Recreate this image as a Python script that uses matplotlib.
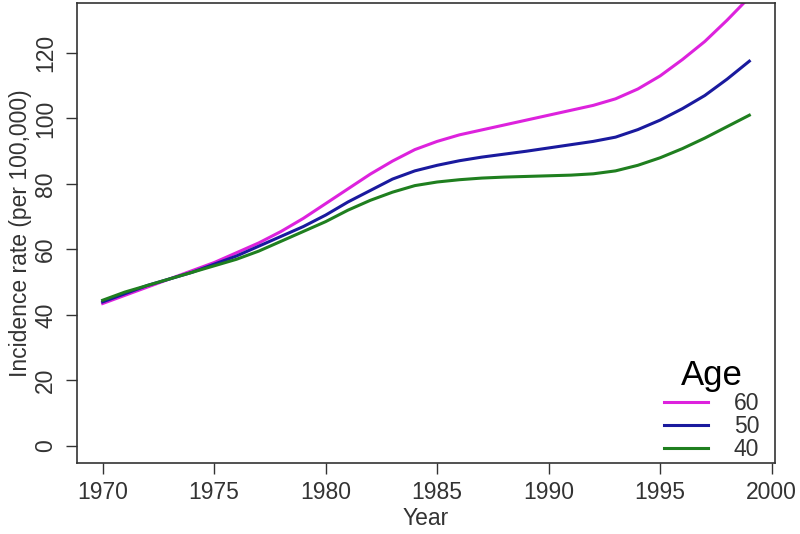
import matplotlib
matplotlib.use("Agg")
import matplotlib.pyplot as plt

years = list(range(1970, 2000))
age60 = [43.5, 46, 48.5, 51, 53.5, 56, 59, 62, 65.5, 69.5,
         74, 78.5, 83, 87, 90.5, 93, 95, 96.5, 98, 99.5,
         101, 102.5, 104, 106, 109, 113, 118, 123.5, 130, 137]
age50 = [44, 46.5, 49, 51, 53, 55.5, 58, 61, 64, 67,
         70.5, 74.5, 78, 81.5, 84, 85.7, 87.1, 88.2, 89.1, 90,
         91, 92, 93, 94.3, 96.6, 99.5, 103, 107, 112, 117.5]
age40 = [44.5, 47, 49, 51, 53, 55, 57, 59.5, 62.5, 65.5,
         68.5, 72, 75, 77.5, 79.5, 80.6, 81.3, 81.8, 82.1, 82.3,
         82.5, 82.7, 83.1, 84, 85.7, 88, 90.8, 94, 97.5, 101]
series = [("60", age60, "#dd22dd"), ("50", age50, "#1a1a9e"), ("40", age40, "#1f7f1f")]
xticks = [1970, 1975, 1980, 1985, 1990, 1995, 2000]
yticks = [0, 20, 40, 60, 80, 100, 120]

plt.rcParams["font.family"] = ["Liberation Sans", "DejaVu Sans"]
fig = plt.figure(figsize=(8, 5.34), dpi=100)
ax = fig.add_axes([0.096, 0.133, 0.873, 0.861])

for lab, vals, col in series:
    ax.plot(years, vals, color=col, lw=2.2, label=lab)

ax.set_xlim(1968.84, 2000.16)
ax.set_ylim(-5.2, 135.2)
ax.set_xticks(xticks)
ax.set_yticks(yticks)
ax.tick_params(axis="both", direction="out", length=8, width=1, color="#333333",
               labelsize=16.5, labelcolor="#333333")
ax.tick_params(axis="x", pad=5)
ax.tick_params(axis="y", pad=6)
for t in ax.get_yticklabels():
    t.set_rotation(90)
    t.set_va("center")
for s in ax.spines.values():
    s.set_color("#333333")
    s.set_linewidth(1.2)

ax.set_xlabel("Year", fontsize=16.5, color="#333333", labelpad=2)
ax.set_ylabel("Incidence rate (per 100,000)", fontsize=16.5, color="#333333", labelpad=2)

leg = ax.legend(loc="lower right", bbox_to_anchor=(1.0, -0.03), frameon=False,
                title="Age", title_fontsize=25, fontsize=16.5,
                handlelength=1.95, handletextpad=1.1, labelspacing=0.0, borderaxespad=0.3)
for t in leg.get_texts():
    t.set_color("#333333")

fig.savefig("out.png", dpi=100, facecolor="white")
